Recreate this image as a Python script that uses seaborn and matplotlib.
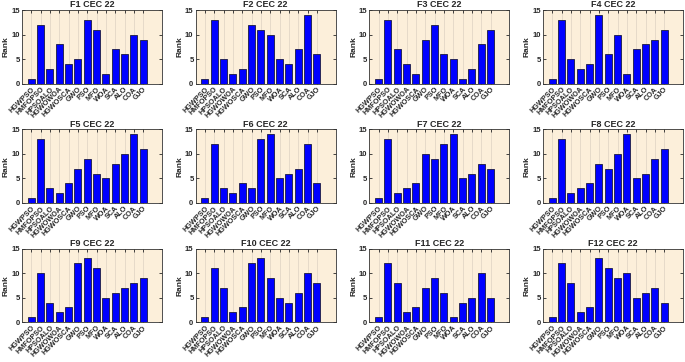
import numpy as np
import pandas as pd
import matplotlib
matplotlib.use("Agg")
import matplotlib.pyplot as plt
import seaborn as sns

sns.set_style("ticks")
plt.rcParams["font.family"] = ["Liberation Sans", "DejaVu Sans"]

algorithms = ["HGWPSO", "HMFOPSO", "HPSOALO", "HGWOWOA", "HGWOSCA", "GWO",
              "PSO", "MFO", "WOA", "SCA", "ALO", "COA", "GJO"]

f1 = [1, 12, 3, 8, 4, 5, 13, 11, 2, 7, 6, 10, 9]
f2 = [1, 13, 5, 2, 3, 12, 11, 10, 5, 4, 7, 14, 6]
f3 = [1, 13, 7, 4, 2, 9, 12, 6, 5, 1, 3, 8, 11]
f4 = [1, 13, 5, 3, 4, 14, 6, 10, 2, 7, 8, 9, 11]
f5 = [1, 13, 3, 2, 4, 7, 9, 6, 5, 8, 10, 14, 11]
f6 = [1, 12, 3, 2, 4, 3, 13, 14, 5, 6, 7, 12, 4]
f7 = [1, 13, 2, 3, 4, 10, 9, 12, 14, 5, 6, 8, 7]
f8 = [1, 13, 2, 3, 4, 8, 7, 10, 14, 5, 6, 9, 11]
f9 = [1, 10, 4, 2, 3, 12, 13, 11, 5, 6, 7, 8, 9]
f10 = [1, 11, 7, 2, 3, 12, 13, 9, 5, 4, 6, 10, 8]
f11 = [1, 12, 8, 2, 3, 7, 9, 6, 1, 4, 5, 10, 5]
f12 = [1, 12, 8, 2, 3, 13, 11, 9, 10, 5, 6, 7, 4]

ranks = [f1, f2, f3, f4, f5, f6, f7, f8, f9, f10, f11, f12]
titles = [f"F{i} CEC 22" for i in range(1, 13)]

fig, axes = plt.subplots(3, 4, figsize=(6.85, 3.62), dpi=100)
fig.subplots_adjust(left=0.032, right=0.997, top=0.972, bottom=0.11,
                    wspace=0.24, hspace=0.62)

for ax, vals, title in zip(axes.flat, ranks, titles):
    df = pd.DataFrame({"Algorithm": algorithms, "Rank": vals})
    ax.set_facecolor("#FCEFDA")
    sns.barplot(data=df, x="Algorithm", y="Rank", color="#0000FF",
                saturation=1, width=0.75, edgecolor="#1a1a40", linewidth=0.6,
                ax=ax, zorder=3)
    ax.set_xlim(-1, 14)
    ax.set_ylim(0, 15)
    ax.set_yticks([0, 5, 10, 15])
    ax.grid(axis="x", color="#ddd2c2", linewidth=0.5, zorder=0)
    ax.set_axisbelow(True)
    ax.set_xlabel("")
    ax.set_ylabel("Rank", fontsize=6, fontweight="bold", labelpad=1)
    ax.set_title(title, fontsize=6.5, fontweight="bold", pad=2)
    ax.tick_params(direction="in", length=2, width=0.6, top=True, right=True,
                   labelsize=5.5, pad=1.5)
    for lab in ax.get_yticklabels():
        lab.set_fontweight("bold")
    ax.set_xticks(range(len(algorithms)))
    ax.set_xticklabels(algorithms, rotation=45, ha="right",
                       rotation_mode="anchor", fontsize=5.2, fontweight="bold")
    for s in ax.spines.values():
        s.set_linewidth(0.6)
        s.set_color("#333333")

fig.savefig("out.png", dpi=100)
